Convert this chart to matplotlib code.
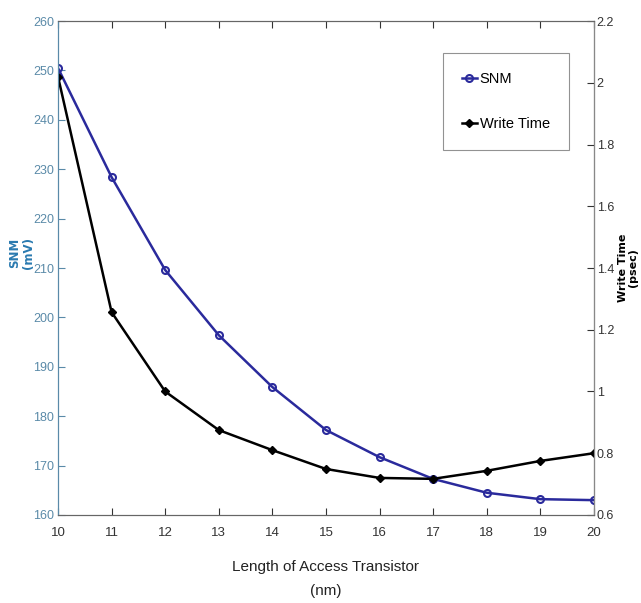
import numpy as np
import matplotlib.pyplot as plt

# data
length_nm = [10, 11, 12, 13, 14, 15, 16, 17, 18, 19, 20]
snm_mv = [250.5, 228.4, 209.6, 196.4, 185.9, 177.2, 171.7, 167.3, 164.5, 163.2, 163.0]
write_ps = [2.02, 1.257, 1.0, 0.875, 0.81, 0.749, 0.72, 0.717, 0.743, 0.775, 0.80]

snm_ticks = [160, 170, 180, 190, 200, 210, 220, 230, 240, 250, 260]
wt_ticks = [0.6, 0.8, 1.0, 1.2, 1.4, 1.6, 1.8, 2.0, 2.2]
wt_labels = ['0.6', '0.8', '1', '1.2', '1.4', '1.6', '1.8', '2', '2.2']

plt.rcParams['font.family'] = ['Liberation Sans', 'DejaVu Sans']

snm_color = '#2a2a9c'
axis_blue = '#5a8aa8'

fig = plt.figure(figsize=(6.41, 6.03), dpi=100)
ax = fig.add_axes([0.0905, 0.146, 0.836, 0.819])
ax2 = ax.twinx()

l1, = ax.plot(length_nm, snm_mv, color=snm_color, lw=1.8, marker='o',
              ms=5, mfc='none', mew=1.5, label='SNM')
l2, = ax2.plot(length_nm, write_ps, color='black', lw=1.8, marker='D',
               ms=4, label='Write Time')

ax.set_xlim(10, 20)
ax.set_ylim(160, 260)
ax2.set_ylim(0.6, 2.2)
ax.set_xticks(length_nm)
ax.set_yticks(snm_ticks)
ax2.set_yticks(wt_ticks)
ax2.set_yticklabels(wt_labels)

ax.tick_params(axis='x', direction='in', top=True, labelsize=9.5, colors='#333333',
               length=5, pad=9)
ax.tick_params(axis='y', direction='in', labelsize=9, colors=axis_blue, length=5, pad=3)
ax2.tick_params(axis='y', direction='in', labelsize=9, colors='#333333', length=5, pad=2)

for s in ['top', 'bottom']:
    ax.spines[s].set_color('#666666')
ax.spines['left'].set_color(axis_blue)
ax2.spines['left'].set_color(axis_blue)
ax2.spines['right'].set_color('#888888')
ax2.spines['top'].set_color('#666666')
ax2.spines['bottom'].set_color('#666666')

ax.set_xlabel('Length of Access Transistor\n(nm)', fontsize=11, color='#222222',
              linespacing=1.9, labelpad=15)
ax.set_ylabel('SNM\n(mV)', fontsize=8.5, fontweight='bold', color='#2a7ab0',
              family='DejaVu Sans', linespacing=1.1)
ax.yaxis.set_label_coords(-0.043, 0.53)
ax2.set_ylabel('Write Time\n(psec)', fontsize=8, fontweight='bold', color='black',
               family='DejaVu Sans', linespacing=0.95, rotation=90)
ax2.yaxis.set_label_coords(1.045, 0.50)

leg = ax.legend([l1, l2], ['SNM', 'Write Time'], loc='upper right',
                bbox_to_anchor=(0.953, 0.935), fontsize=10.5, fancybox=False,
                edgecolor='#777777', handlelength=1.0, handletextpad=0.2,
                labelspacing=2.1, borderpad=1.3, borderaxespad=0)
leg.get_frame().set_linewidth(0.8)

fig.savefig('out.png', dpi=100)
